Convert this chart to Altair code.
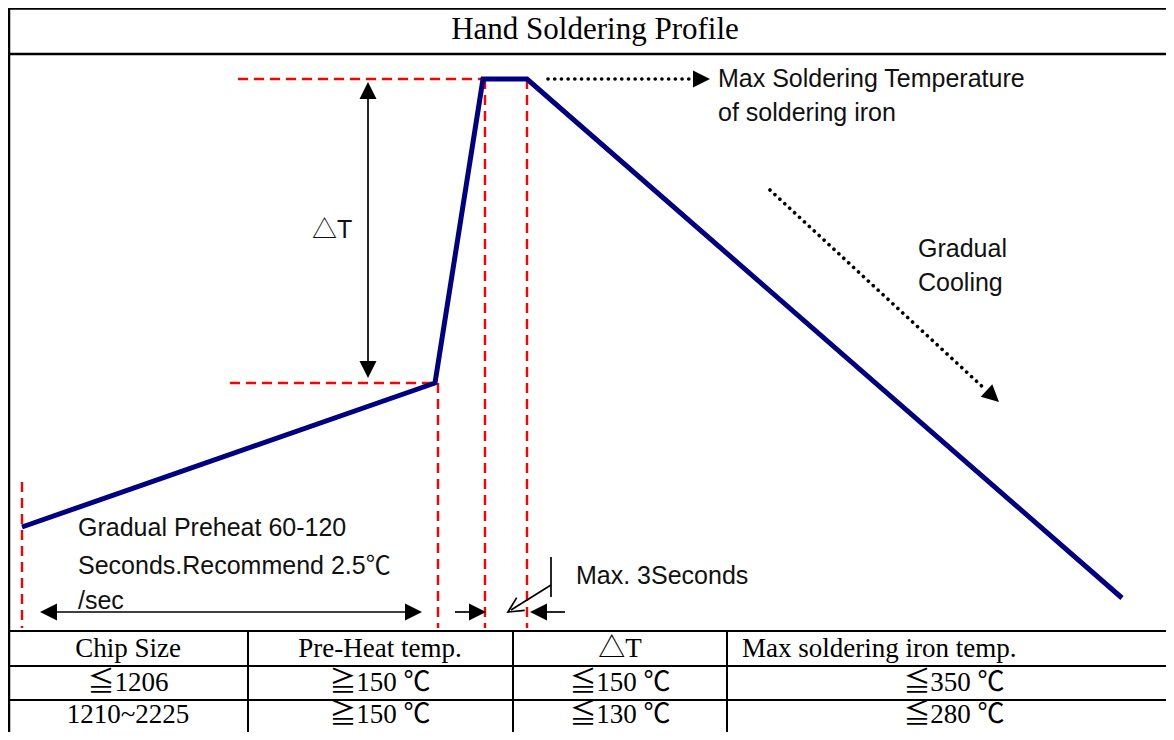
import math
import altair as alt
import pandas as pd

# ---------------- diagram extents (reference pixel units) ----------------
X_DOMAIN = [8, 1166]
Y_DOMAIN = [8, 732]

# ---------------- soldering profile ----------------
profile_x = [22, 435, 483, 527, 1122]
profile_y = [527, 383, 79, 79, 598]

# ---------------- red dashed guide lines ----------------
guide_x1 = [238, 230, 22, 438, 485, 527]
guide_y1 = [79, 383, 482, 383, 79, 79]
guide_x2 = [483, 435, 22, 438, 485, 527]
guide_y2 = [79, 383, 628, 628, 628, 628]

# ---------------- frame / table grid ----------------
frame_x1 = [9, 8, 8]
frame_y1 = [8, 8.5, 54]
frame_x2 = [9, 1166, 1166]
frame_y2 = [732, 8.5, 54]

table_x1 = [8, 8, 8, 248, 513, 727]
table_y1 = [631, 666, 700, 631, 631, 631]
table_x2 = [1166, 1166, 1166, 248, 513, 727]
table_y2 = [631, 666, 700, 732, 732, 732]

# ---------------- thin arrow shafts ----------------
shaft_x1 = [368, 44, 455, 535, 551, 551]
shaft_y1 = [88, 612, 612, 612, 557, 585]
shaft_x2 = [368, 418, 482, 565, 551, 511]
shaft_y2 = [374, 612, 612, 612, 597, 610]

# ---------------- dotted arrow shafts ----------------
dot_x1 = [548, 770]
dot_y1 = [79, 190]
dot_x2 = [696, 986]
dot_y2 = [79, 390]

# ---------------- filled arrow heads: tip position + direction ----------------
head_x = [368, 368, 40, 422, 486, 530, 710, 999]
head_y = [82, 378, 612, 612, 612, 612, 79, 402]
head_dx = [0, 0, -1, 1, 1, -1, 1, 229]
head_dy = [-1, 1, 0, 0, 0, 0, 0, 212]

# open arrow head (Max. 3 Seconds pointer)
open_x = [508]
open_y = [612]
open_dx = [-43]
open_dy = [27]

# ---------------- texts ----------------
title_text = ["Hand Soldering Profile"]
title_x = [595]
title_y = [30]

note_text = ["Max Soldering Temperature", "of soldering iron", "\u25b3T",
             "Gradual", "Cooling", "Gradual Preheat 60-120",
             "Seconds.Recommend 2.5\u2103", "/sec", "Max. 3Seconds"]
note_x = [718, 718, 312, 918, 918, 78, 78, 78, 576]
note_y = [79, 113, 230, 249, 283, 528, 566, 601, 576]

table_cells = ["Chip Size", "Pre-Heat temp.", "\u25b3T",
               "\u22661206", "\u2267150 \u2103", "\u2266150 \u2103", "\u2266350 \u2103",
               "1210~2225", "\u2267150 \u2103", "\u2266130 \u2103", "\u2266280 \u2103"]
table_cell_x = [128, 380, 620, 128, 380, 620, 954, 128, 380, 620, 954]
table_cell_y = [649, 649, 649, 683, 683, 683, 683, 715, 715, 715, 715]
header_left_text = ["Max soldering iron temp."]
header_left_x = [742]
header_left_y = [649]

SERIF = "Liberation Serif, 'Noto Sans CJK TC', serif"
SANS = "Liberation Sans, 'Noto Sans CJK TC', sans-serif"


def ang(dx, dy):
    return math.degrees(math.atan2(dx, -dy)) % 360


xs = alt.Scale(domain=X_DOMAIN, nice=False, zero=False)
ys = alt.Scale(domain=Y_DOMAIN, nice=False, zero=False, reverse=True)


def X(f="x"):
    return alt.X(f"{f}:Q", scale=xs, axis=None)


def Y(f="y"):
    return alt.Y(f"{f}:Q", scale=ys, axis=None)


def segs(x1, y1, x2, y2):
    return pd.DataFrame({"x": x1, "y": y1, "x2": x2, "y2": y2})


def rule_layer(df, **kw):
    return alt.Chart(df).mark_rule(**kw).encode(
        x=X(), y=Y(), x2=alt.X2("x2"), y2=alt.Y2("y2"))


profile_df = pd.DataFrame({"x": profile_x, "y": profile_y,
                           "o": list(range(len(profile_x)))})
profile = alt.Chart(profile_df).mark_line(
    color="#000080", strokeWidth=5, strokeJoin="miter").encode(
    x=X(), y=Y(), order="o:Q")

guides = rule_layer(segs(guide_x1, guide_y1, guide_x2, guide_y2),
                    color="#ff0000", strokeWidth=2.4, strokeDash=[10, 6])
frame = rule_layer(segs(frame_x1, frame_y1, frame_x2, frame_y2),
                   color="black", strokeWidth=2.5)
table = rule_layer(segs(table_x1, table_y1, table_x2, table_y2),
                   color="black", strokeWidth=2)
shafts = rule_layer(segs(shaft_x1, shaft_y1, shaft_x2, shaft_y2),
                    color="black", strokeWidth=1.7)
dots = rule_layer(segs(dot_x1, dot_y1, dot_x2, dot_y2),
                  color="black", strokeWidth=3.6, strokeDash=[0.1, 6.6],
                  strokeCap="round")

heads_df = pd.DataFrame({"x": head_x, "y": head_y,
                         "a": [ang(dx, dy) for dx, dy in zip(head_dx, head_dy)]})
heads = alt.Chart(heads_df).mark_point(
    shape="M0,0 L-0.5,1 L0.5,1 Z", filled=True, size=1156,
    color="black", opacity=1).encode(
    x=X(), y=Y(), angle=alt.Angle("a:Q", scale=None))

open_df = pd.DataFrame({"x": open_x, "y": open_y,
                        "a": [ang(dx, dy) for dx, dy in zip(open_dx, open_dy)]})
open_head = alt.Chart(open_df).mark_point(
    shape="M-0.5,1 L0,0 L0.5,1", filled=False, size=900,
    color="black", strokeWidth=1.7, opacity=1).encode(
    x=X(), y=Y(), angle=alt.Angle("a:Q", scale=None))


def text_layer(t, x, y, **kw):
    df = pd.DataFrame({"x": x, "y": y, "t": t})
    return alt.Chart(df).mark_text(baseline="middle", **kw).encode(
        x=X(), y=Y(), text="t:N")


title = text_layer(title_text, title_x, title_y, align="center",
                   font=SERIF, fontSize=31, color="black")
notes = text_layer(note_text, note_x, note_y, align="left",
                   font=SANS, fontSize=25, color="#111111")
cells = text_layer(table_cells, table_cell_x, table_cell_y, align="center",
                   font=SERIF, fontSize=27, color="black")
header_left = text_layer(header_left_text, header_left_x, header_left_y,
                         align="left", font=SERIF, fontSize=27,
                         color="black")

chart = alt.layer(
    guides, frame, table, shafts, dots, heads, open_head, profile,
    title, notes, cells, header_left
).properties(
    width=1158, height=724, padding=0,
    autosize=alt.AutoSizeParams(type="none")
).configure_view(stroke=None)

chart.save("out.html", embed_options={"renderer": "svg", "actions": False})
